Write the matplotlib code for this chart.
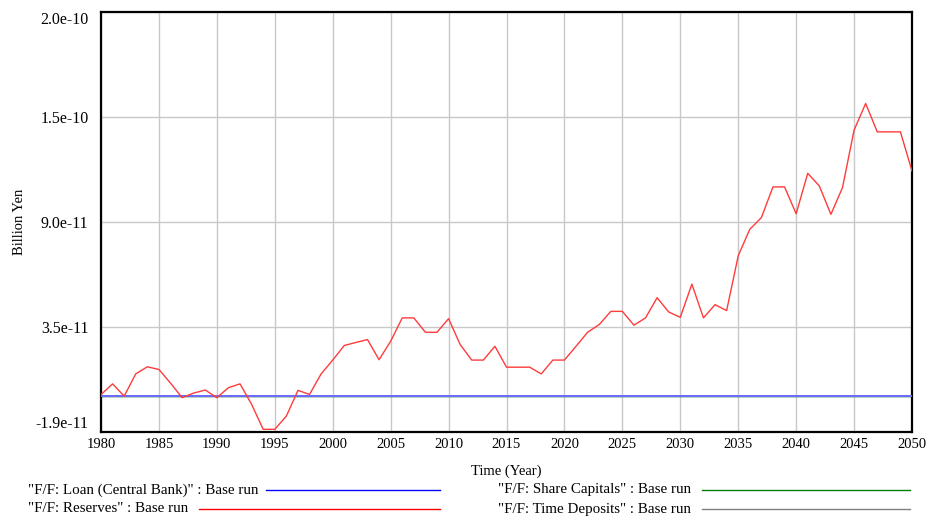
import numpy as np
import matplotlib
matplotlib.use("Agg")
import matplotlib.pyplot as plt
from matplotlib.lines import Line2D

# yearly values, simulation output (Billion Yen)
years = np.arange(1980, 2051)
reserves = np.array([
    0.05, 0.61, -0.03, 1.13, 1.50, 1.36, 0.65, -0.11, 0.13, 0.29,
    -0.11, 0.41, 0.61, -0.46, -1.76, -1.76, -1.07, 0.27, 0.06, 1.13,
    1.85, 2.61, 2.77, 2.92, 1.87, 2.83, 4.05, 4.05, 3.30, 3.30,
    4.01, 2.66, 1.85, 1.85, 2.57, 1.48, 1.48, 1.48, 1.13, 1.85,
    1.85, 2.57, 3.30, 3.70, 4.39, 4.39, 3.67, 4.05, 5.10, 4.36,
    4.08, 5.81, 4.05, 4.74, 4.43, 7.29, 8.67, 9.28, 10.88, 10.88,
    9.48, 11.59, 10.93, 9.45, 10.84, 13.84, 15.23, 13.75, 13.75, 13.75,
    11.71,
]) * 1e-11
loan_cb = np.zeros(len(years))
share_capitals = np.zeros(len(years))
time_deposits = np.zeros(len(years))

y_min, y_max = -1.9e-11, 2.0e-10
y_tick_labels = ["-1.9e-11", "3.5e-11", "9.0e-11", "1.5e-10", "2.0e-10"]
x_ticks = np.arange(1980, 2051, 5)

series_names = [
    '"F/F: Loan (Central Bank)" : Base run',
    '"F/F: Reserves" : Base run',
    '"F/F: Share Capitals" : Base run',
    '"F/F: Time Deposits" : Base run',
]

plt.rcParams["font.family"] = ["Liberation Serif", "DejaVu Serif"]
plt.rcParams["font.size"] = 10

W, H = 929, 520
fig = plt.figure(figsize=(W / 100, H / 100), dpi=100)
ax = fig.add_axes([101 / W, 88 / H, 811 / W, 420 / H])

ax.plot(years, share_capitals, color="#008000", lw=1.0, zorder=2)
ax.plot(years, time_deposits, color="#808080", lw=1.0, zorder=2)
ax.plot(years, loan_cb, color="#6a6aff", lw=1.4, zorder=3)
ax.plot(years, reserves, color="#ff3b3b", lw=1.0, zorder=4)

ax.set_xlim(1980, 2050)
ax.set_ylim(y_min, y_max)
ax.set_xticks(x_ticks)
ax.set_yticks(np.linspace(y_min, y_max, 5))
ax.set_yticklabels(y_tick_labels)
ax.tick_params(length=0)
ax.tick_params(axis="x", pad=4, labelsize=10.5)
ax.tick_params(axis="y", pad=9, labelsize=11.5)
# keep the end labels inside the plot's height
ylabels = ax.get_yticklabels()
ylabels[0].set_va("bottom")
ylabels[-1].set_va("top")

ax.grid(True, color="#c8c8c8", lw=1.0)
ax.set_axisbelow(True)
for sp in ax.spines.values():
    sp.set_linewidth(1.6)
    sp.set_color("black")

ax.set_xlabel("Time (Year)", fontsize=10.5)
ax.xaxis.set_label_coords(0.5, -0.078)
ax.set_ylabel("Billion Yen", fontsize=10.5)
ax.yaxis.set_label_coords(-0.093, 0.5)

# legend rows under the chart: text, then a sample line ending at a fixed x
legend_rows = [
    (series_names[0], "#0000ff", 28, 490, 266, 440),
    (series_names[1], "#ff0000", 28, 509, 199, 440),
    (series_names[2], "#008000", 498, 490, 702, 910),
    (series_names[3], "#808080", 498, 509, 702, 910),
]
for label, color, tx, ty, x0, x1 in legend_rows:
    fig.text(tx / W, 1 - ty / H, label, fontsize=10.8, va="center", ha="left")
    fig.add_artist(Line2D([x0 / W, x1 / W], [1 - ty / H, 1 - ty / H],
                          color=color, lw=1.0, transform=fig.transFigure))

fig.savefig("out.png", dpi=100)
